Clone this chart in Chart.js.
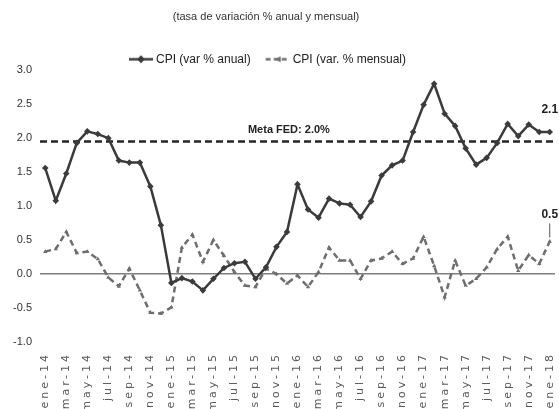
<!DOCTYPE html>
<html>
<head>
<meta charset="utf-8">
<script src="https://cdn.jsdelivr.net/npm/chart.js@4.4.1/dist/chart.umd.min.js"></script>
<style>
html,body{margin:0;padding:0;background:#fff;overflow:hidden;}
#wrap{width:559px;height:409px;overflow:hidden;position:relative;}
canvas{display:block;}
</style>
</head>
<body>
<div id="wrap"><canvas id="c" width="559" height="409"></canvas></div>
<script>
const months = ['ene-14','feb-14','mar-14','abr-14','may-14','jun-14','jul-14','ago-14','sep-14','oct-14','nov-14','dic-14',
  'ene-15','feb-15','mar-15','abr-15','may-15','jun-15','jul-15','ago-15','sep-15','oct-15','nov-15','dic-15',
  'ene-16','feb-16','mar-16','abr-16','may-16','jun-16','jul-16','ago-16','sep-16','oct-16','nov-16','dic-16',
  'ene-17','feb-17','mar-17','abr-17','may-17','jun-17','jul-17','ago-17','sep-17','oct-17','nov-17','dic-17',
  'ene-18'];
const tickLabels = ['ene-14','mar-14','may-14','jul-14','sep-14','nov-14','ene-15','mar-15','may-15','jul-15','sep-15','nov-15',
  'ene-16','mar-16','may-16','jul-16','sep-16','nov-16','ene-17','mar-17','may-17','jul-17','sep-17','nov-17','ene-18'];
const cpiAnual = [1.56,1.08,1.48,1.93,2.10,2.06,2.00,1.67,1.64,1.64,1.29,0.72,
  -0.13,-0.06,-0.11,-0.24,-0.07,0.09,0.16,0.18,-0.07,0.10,0.40,0.62,
  1.32,0.95,0.83,1.11,1.04,1.02,0.84,1.07,1.45,1.60,1.67,2.09,
  2.49,2.80,2.36,2.18,1.85,1.61,1.71,1.93,2.21,2.03,2.20,2.09,
  2.09];
const cpiMensual = [0.33,0.37,0.62,0.31,0.33,0.22,-0.05,-0.18,0.08,-0.24,-0.57,-0.58,
  -0.49,0.39,0.58,0.18,0.50,0.27,0.03,-0.17,-0.19,0.08,0.00,-0.14,
  -0.02,-0.19,0.03,0.39,0.20,0.20,-0.07,0.20,0.23,0.33,0.15,0.23,
  0.55,0.12,-0.34,0.20,-0.17,-0.07,0.10,0.37,0.55,0.05,0.28,0.15,
  0.48];
const metaFed = 1.95;
const yMin = -1.0, yMax = 3.0, yStep = 0.5;
const seriesNames = ['CPI (var % anual)','CPI (var. % mensual)'];
const titleText = '(tasa de variación % anual y mensual)';
const metaText = 'Meta FED: 2.0%';
const lastAnualText = '2.1';
const lastMensualText = '0.5';

const NARROW = "'Liberation Sans Narrow','Liberation Sans',Arial,sans-serif";
const C_ANUAL = '#3b3b3b';
const C_MENS = '#6e6e6e';

function legendImg(kind){
  const cv = document.createElement('canvas');
  cv.width = 32; cv.height = 9;
  const g = cv.getContext('2d');
  g.lineWidth = 2.5;
  if(kind === 0){
    g.strokeStyle = C_ANUAL; g.fillStyle = C_ANUAL;
    g.beginPath(); g.moveTo(7,4.5); g.lineTo(31,4.5); g.stroke();
    g.beginPath(); g.moveTo(19,0.5); g.lineTo(23,4.5); g.lineTo(19,8.5); g.lineTo(15,4.5); g.closePath(); g.fill();
  } else {
    g.strokeStyle = C_MENS; g.fillStyle = C_MENS;
    g.setLineDash([5,3]);
    g.beginPath(); g.moveTo(7,4.5); g.lineTo(31,4.5); g.stroke();
    g.beginPath(); g.moveTo(16,4.5); g.lineTo(22,1.5); g.lineTo(22,7.5); g.closePath(); g.fill();
  }
  return cv;
}

const overlay = {
  id: 'overlay',
  afterLayout(chart){
    const s = chart.scales.x;
    if(!s.__wrapped){
      const orig = s.drawLabels;
      s.drawLabels = function(area){
        const c = this.ctx; c.save(); c.letterSpacing = '3px'; orig.call(this, area); c.restore();
      };
      s.__wrapped = true;
    }
  },
  beforeDatasetsDraw(chart){
    const {ctx, chartArea, scales:{y}} = chart;
    const py = y.getPixelForValue(metaFed);
    ctx.save();
    ctx.strokeStyle = '#262626';
    ctx.lineWidth = 2.5;
    ctx.setLineDash([7,4]);
    ctx.beginPath(); ctx.moveTo(chartArea.left, py); ctx.lineTo(chartArea.right, py); ctx.stroke();
    ctx.restore();
  },
  afterDatasetsDraw(chart){
    const {ctx, scales:{x,y}} = chart;
    const n = months.length - 1;
    ctx.save();
    ctx.fillStyle = '#222';
    ctx.font = "bold 11px " + NARROW;
    ctx.textBaseline = 'middle';
    ctx.textAlign = 'left';
    ctx.fillText(metaText, x.getPixelForValue(19) + 3, y.getPixelForValue(metaFed) - 12);
    ctx.font = "bold 12px " + NARROW;
    ctx.textAlign = 'center';
    const lx = x.getPixelForValue(n);
    ctx.fillText(lastAnualText, lx, y.getPixelForValue(cpiAnual[n]) - 22);
    ctx.fillText(lastMensualText, lx, y.getPixelForValue(cpiMensual[n]) - 27);
    ctx.strokeStyle = '#555'; ctx.lineWidth = 1;
    ctx.beginPath();
    ctx.moveTo(lx, y.getPixelForValue(cpiMensual[n]) - 18);
    ctx.lineTo(lx, y.getPixelForValue(cpiMensual[n]) - 4);
    ctx.stroke();
    ctx.restore();
  }
};

new Chart(document.getElementById('c'), {
  type: 'line',
  data: {
    labels: months,
    datasets: [
      {
        label: seriesNames[0],
        data: cpiAnual,
        borderColor: C_ANUAL,
        backgroundColor: C_ANUAL,
        borderWidth: 2.5,
        pointStyle: 'rectRot',
        pointRadius: 3.3,
        pointBorderWidth: 0,
        tension: 0,
        order: 1
      },
      {
        label: seriesNames[1],
        data: cpiMensual,
        borderColor: C_MENS,
        backgroundColor: C_MENS,
        borderWidth: 2.5,
        borderDash: [6,4],
        pointStyle: 'triangle',
        pointRadius: 2.5,
        pointBorderWidth: 0,
        tension: 0,
        order: 2
      }
    ]
  },
  options: {
    responsive: false,
    animation: false,
    layout: { padding: { left: -23, right: 4, top: 0, bottom: 0 } },
    plugins: {
      tooltip: { enabled: false },
      title: {
        display: true,
        text: titleText,
        color: '#333',
        font: { family: NARROW, size: 11, weight: 'normal' },
        padding: { top: 10, bottom: 18 }
      },
      legend: {
        display: true,
        position: 'top',
        maxHeight: 29,
        labels: {
          color: '#222',
          font: { family: NARROW, size: 12 },
          usePointStyle: true,
          boxWidth: 24,
          boxHeight: 9,
          pointStyleWidth: 24,
          padding: 12,
          generateLabels(chart){
            return chart.data.datasets.map((d,i) => ({
              text: d.label,
              pointStyle: legendImg(i),
              fillStyle: d.borderColor,
              strokeStyle: d.borderColor,
              lineWidth: 0,
              hidden: false,
              datasetIndex: i,
              fontColor: '#222'
            }));
          }
        }
      }
    },
    scales: {
      x: {
        type: 'category',
        offset: true,
        afterFit(s){ s.height = 67; s.paddingLeft = 0; s.paddingRight = 0; },
        grid: { display: false, drawTicks: false },
        border: { display: false },
        ticks: {
          autoSkip: false,
          minRotation: 90,
          maxRotation: 90,
          padding: 10,
          color: '#5a5a5a',
          font: { family: "'DejaVu Sans',sans-serif", size: 11 },
          callback(v, i){ const l = months[i]; return tickLabels.includes(l) ? l : ''; }
        }
      },
      y: {
        min: yMin,
        max: yMax,
        afterFit(s){ s.width = 63; },
        border: { display: false },
        grid: {
          drawTicks: false,
          lineWidth: 1.5,
          color: ctx => (ctx.tick && Math.abs(ctx.tick.value) < 1e-9) ? '#7f7f7f' : 'rgba(0,0,0,0)'
        },
        ticks: {
          stepSize: yStep,
          padding: 8,
          color: '#333',
          font: { family: NARROW, size: 11 },
          callback: v => (Math.round(v * 10) / 10).toFixed(1)
        }
      }
    }
  },
  plugins: [overlay]
});
</script>
</body>
</html>
